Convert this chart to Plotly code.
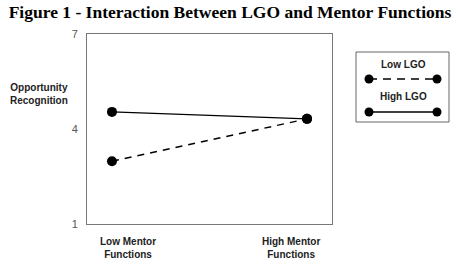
import plotly.graph_objects as go

categories = ["Low Mentor<br>Functions", "High Mentor<br>Functions"]
x_pos = [0, 1]
low_lgo = [2.98, 4.32]
high_lgo = [4.54, 4.32]
series_names = ["Low LGO", "High LGO"]
y_ticks = [1, 4, 7]

fig = go.Figure()
fig.add_trace(go.Scatter(x=x_pos, y=low_lgo, mode="lines+markers", name=series_names[0],
                         line=dict(color="black", width=1.5, dash="7px,6px"),
                         marker=dict(color="black", size=10), showlegend=False))
fig.add_trace(go.Scatter(x=x_pos, y=high_lgo, mode="lines+markers", name=series_names[1],
                         line=dict(color="black", width=1.3),
                         marker=dict(color="black", size=10), showlegend=False))

label_x = [0.082, 0.918]
for xv, txt in zip(label_x, categories):
    fig.add_annotation(x=xv, y=0, xref="x", yref="paper", yshift=-10, yanchor="top",
                       xanchor="center", text="<b>" + txt + "</b>", showarrow=False,
                       font=dict(family="Arial", size=10, color="#222"))

fig.add_annotation(x=-0.196, y=0.684, xref="paper", yref="paper", xanchor="center",
                   yanchor="middle", text="<b>Opportunity<br>Recognition</b>", showarrow=False,
                   font=dict(family="Arial", size=10, color="#222"))

# custom legend
def px2x(px):
    return (px - 87) / 245
def py2y(py):
    return (224 - py) / 190

fig.add_shape(type="rect", xref="paper", yref="paper", x0=px2x(356), x1=px2x(449),
              y0=py2y(122), y1=py2y(52), line=dict(color="#666", width=1))
legend_rows = [(65, 79, "8px,6px"), (96, 112, "solid")]
for name, (ty, ly, dash) in zip(series_names, legend_rows):
    fig.add_annotation(x=px2x(403), y=py2y(ty), xref="paper", yref="paper",
                       xanchor="center", yanchor="middle",
                       text="<b>" + name + "</b>", showarrow=False,
                       font=dict(family="Arial", size=10, color="#222"))
    fig.add_shape(type="line", xref="paper", yref="paper", x0=px2x(369), x1=px2x(437),
                  y0=py2y(ly), y1=py2y(ly), line=dict(color="black", width=1.3, dash=dash))
    for cx in (369, 437):
        fig.add_shape(type="circle", xref="paper", yref="paper",
                      x0=px2x(cx - 4.5), x1=px2x(cx + 4.5),
                      y0=py2y(ly + 4.5), y1=py2y(ly - 4.5),
                      fillcolor="black", line=dict(color="black", width=0))

fig.update_layout(
    width=460, height=270,
    margin=dict(l=87, r=128, t=34, b=46),
    paper_bgcolor="white", plot_bgcolor="white",
    title=dict(text="<b>Figure 1 - Interaction Between LGO and Mentor Functions</b>",
               x=0.5, xanchor="center", y=0.955, yanchor="middle",
               font=dict(family="Liberation Serif", size=17.5, color="black")),
    xaxis=dict(range=[-0.128, 1.128], showticklabels=False, showgrid=False, zeroline=False,
               showline=True, linecolor="#777", linewidth=1, mirror=True, fixedrange=True),
    yaxis=dict(range=[1, 7], tickvals=y_ticks, showgrid=False, zeroline=False,
               showline=True, linecolor="#777", linewidth=1, mirror=True,
               tickfont=dict(family="Arial", size=11, color="#555"), ticklabelstandoff=6),
)
fig.write_html("out.html")
